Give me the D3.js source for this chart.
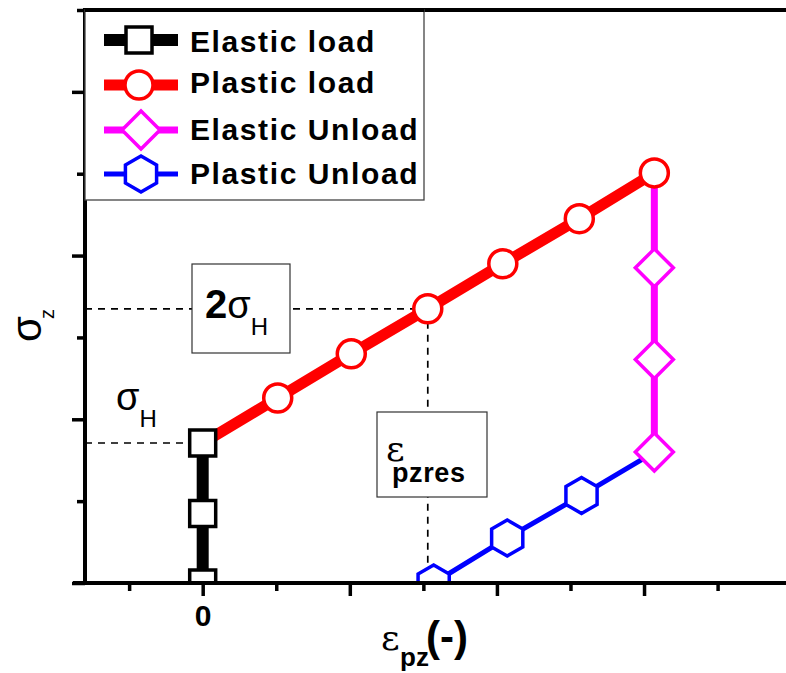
<!DOCTYPE html>
<html>
<head>
<meta charset="utf-8">
<script src="https://cdn.jsdelivr.net/npm/d3@7"></script>
<style>
  body { margin: 0; background: #fff; }
  text { font-family: "Liberation Sans", Arial, sans-serif; fill: #000; }
</style>
</head>
<body>
<div id="root"></div>
<script>
// series values (x in strain units, y in stress units)
var elasticLoadX = [0, 0, 0];
var elasticLoadY = [0, 0.85, 1.71];
var plasticLoadX = [0, 1.02, 2.02, 3.06, 4.08, 5.12, 6.14];
var plasticLoadY = [1.71, 2.26, 2.80, 3.35, 3.90, 4.45, 5.01];
var elasticUnloadX = [6.14, 6.14, 6.14, 6.14];
var elasticUnloadY = [5.01, 3.85, 2.73, 1.60];
var plasticUnloadX = [6.14, 5.15, 4.14, 3.14];
var plasticUnloadY = [1.60, 1.07, 0.55, 0];

var seriesNames = ["Elastic load", "Plastic load", "Elastic Unload", "Plastic Unload"];
var xTicks = [-1, 0, 1, 2, 3, 4, 5, 6, 7];
var xTickLabels = ["", "0", "", "", "", "", "", "", ""];
var yTicks = [0, 1, 2, 3, 4, 5, 6, 7];

var w = 786, h = 673;
var margin = { top: 10, right: 0, bottom: 90, left: 85 };

var xScale = d3.scaleLinear().domain([-1.6, 7.93]).range([margin.left, w]);
var yScale = d3.scaleLinear().domain([0, 7]).range([h - margin.bottom, margin.top]);

function zip(xs, ys) {
  return xs.map(function(v, i) { return [v, ys[i]]; });
}

var series = [
  { name: seriesNames[0], pts: zip(elasticLoadX, elasticLoadY), color: "#000000", width: 12, shape: "square", skipFirst: false },
  { name: seriesNames[1], pts: zip(plasticLoadX, plasticLoadY), color: "#ff0000", width: 11, shape: "circle", skipFirst: true },
  { name: seriesNames[2], pts: zip(elasticUnloadX, elasticUnloadY), color: "#ff00ff", width: 7, shape: "diamond", skipFirst: true },
  { name: seriesNames[3], pts: zip(plasticUnloadX, plasticUnloadY), color: "#0000ff", width: 5, shape: "hexagon", skipFirst: true }
];

// marker outline around (0,0)
function shapePath(shape) {
  if (shape === "square") return "M-13,-13H13V13H-13Z";
  if (shape === "circle") return "M14,0A14,14 0 1,1 -14,0A14,14 0 1,1 14,0Z";
  if (shape === "diamond") return "M0,-19L19,0L0,19L-19,0Z";
  var p = d3.path();
  for (var k = 0; k < 6; k++) {
    var a = -Math.PI / 2 + k * Math.PI / 3;
    if (k === 0) p.moveTo(18 * Math.cos(a), 18 * Math.sin(a));
    else p.lineTo(18 * Math.cos(a), 18 * Math.sin(a));
  }
  p.closePath();
  return p.toString();
}

var svg = d3.select("#root").append("svg").attr("width", w).attr("height", h);
svg.append("rect").attr("width", w).attr("height", h).attr("fill", "white");

svg.append("clipPath").attr("id", "plotclip").append("rect")
  .attr("x", margin.left).attr("y", margin.top)
  .attr("width", w - margin.left).attr("height", yScale(0) - margin.top);

var plot = svg.append("g").attr("clip-path", "url(#plotclip)");

// dashed guide lines through the plastic point at 2 sigma_H and sigma_H
var gx = xScale(plasticLoadX[3]), gy = yScale(plasticLoadY[3]);
var hy = yScale(elasticLoadY[2]);
plot.append("line").attr("x1", margin.left).attr("x2", gx).attr("y1", gy).attr("y2", gy)
  .attr("stroke", "#000").attr("stroke-width", 1.7).attr("stroke-dasharray", "7,6");
plot.append("line").attr("x1", gx).attr("x2", gx).attr("y1", gy).attr("y2", yScale(0))
  .attr("stroke", "#000").attr("stroke-width", 1.7).attr("stroke-dasharray", "7,6");
plot.append("line").attr("x1", margin.left).attr("x2", xScale(0) - 14).attr("y1", hy).attr("y2", hy)
  .attr("stroke", "#000").attr("stroke-width", 1.7).attr("stroke-dasharray", "7,6");

var line = d3.line().x(function(d) { return xScale(d[0]); }).y(function(d) { return yScale(d[1]); });

series.forEach(function(s) {
  plot.append("path").attr("d", line(s.pts)).attr("fill", "none")
    .attr("stroke", s.color).attr("stroke-width", s.width);
});

series.forEach(function(s) {
  var pts = s.skipFirst ? s.pts.slice(1) : s.pts;
  plot.selectAll(null).data(pts).enter().append("path")
    .attr("d", shapePath(s.shape))
    .attr("transform", function(d) { return "translate(" + xScale(d[0]) + "," + yScale(d[1]) + ")"; })
    .attr("fill", "white").attr("stroke", s.color).attr("stroke-width", 3.5);
});

// annotation boxes
svg.append("rect").attr("x", 192).attr("y", 264).attr("width", 98).attr("height", 89)
  .attr("fill", "white").attr("stroke", "#333").attr("stroke-width", 1.2);
var t2 = svg.append("text").attr("x", 205).attr("y", 318);
t2.append("tspan").style("font-size", "40px").style("font-weight", "bold").text("2");
t2.append("tspan").style("font-size", "38px").text("σ");
t2.append("tspan").attr("dy", 17).style("font-size", "24px").text("H");

svg.append("rect").attr("x", 377).attr("y", 412).attr("width", 110).attr("height", 85)
  .attr("fill", "white").attr("stroke", "#333").attr("stroke-width", 1.2);
var te = svg.append("text").attr("x", 386).attr("y", 461);
te.append("tspan").style("font-family", "'DejaVu Serif', serif").style("font-size", "36px").text("ε");
te.append("tspan").attr("x", 392).attr("y", 482).style("font-size", "27px").style("font-weight", "bold")
  .style("letter-spacing", "0.6px").text("pzres");

var th = svg.append("text").attr("x", 116).attr("y", 410);
th.append("tspan").style("font-size", "38px").text("σ");
th.append("tspan").attr("dy", 17).style("font-size", "24px").text("H");

// axes
var xAxis = d3.axisBottom(xScale).tickValues(xTicks).tickSizeOuter(0)
  .tickFormat(function(d, i) { return xTickLabels[i]; });
var gxAxis = svg.append("g").attr("transform", "translate(0," + yScale(0) + ")").call(xAxis);
gxAxis.select(".domain").remove();
gxAxis.selectAll(".tick line").attr("stroke", "#000").attr("stroke-width", 3.5)
  .attr("y2", function(d) { return d % 2 === 0 ? 13 : 8; });
gxAxis.selectAll(".tick text").attr("y", 22).attr("dy", "0.71em")
  .style("font-size", "30px").style("font-weight", "bold").attr("font-family", null);

var yAxis = d3.axisLeft(yScale).tickValues(yTicks).tickSizeOuter(0).tickFormat("");
var gyAxis = svg.append("g").attr("transform", "translate(" + margin.left + ",0)").call(yAxis);
gyAxis.select(".domain").remove();
gyAxis.selectAll(".tick line").attr("stroke", "#000").attr("stroke-width", 3.5)
  .attr("x2", function(d) { return d % 2 === 0 ? -13 : -8; });

// frame lines
svg.append("line").attr("x1", margin.left - 12).attr("x2", w).attr("y1", yScale(0)).attr("y2", yScale(0))
  .attr("stroke", "#000").attr("stroke-width", 4);
svg.append("line").attr("x1", margin.left).attr("x2", margin.left).attr("y1", yScale(7) - 2).attr("y2", yScale(0) + 2)
  .attr("stroke", "#000").attr("stroke-width", 4);
svg.append("line").attr("x1", margin.left).attr("x2", w).attr("y1", yScale(7)).attr("y2", yScale(7))
  .attr("stroke", "#000").attr("stroke-width", 4);

// legend
var lg = svg.append("g");
lg.append("rect").attr("x", margin.left).attr("y", yScale(7)).attr("width", 424 - margin.left).attr("height", 200 - yScale(7))
  .attr("fill", "white").attr("stroke", "#444").attr("stroke-width", 1.3);
svg.append("line").attr("x1", margin.left).attr("x2", 424).attr("y1", yScale(7)).attr("y2", yScale(7))
  .attr("stroke", "#000").attr("stroke-width", 4);
var rowY = [40, 85, 130, 174];
var textY = [52, 93, 140, 184];
series.forEach(function(s, i) {
  lg.append("line").attr("x1", 104).attr("x2", 178).attr("y1", rowY[i]).attr("y2", rowY[i])
    .attr("stroke", s.color).attr("stroke-width", s.width);
  lg.append("path").attr("d", shapePath(s.shape))
    .attr("transform", "translate(" + (i < 2 ? 139 : 141) + "," + rowY[i] + ")")
    .attr("fill", "white").attr("stroke", s.color).attr("stroke-width", 3.5);
  lg.append("text").attr("x", 190).attr("y", textY[i])
    .style("font-size", "30px").style("font-weight", "bold").style("letter-spacing", "1.6px")
    .text(s.name);
});

// axis titles
var tx = svg.append("text").attr("x", 381).attr("y", 650);
tx.append("tspan").style("font-family", "'DejaVu Serif', serif").style("font-size", "36px").text("ε");
tx.append("tspan").attr("x", 400).attr("y", 666).style("font-size", "26px").style("font-weight", "bold").text("pz");
tx.append("tspan").attr("x", 426).attr("y", 651).style("font-size", "42px").style("font-weight", "bold").text("(-)");

var ty = svg.append("text").attr("transform", "translate(41,342) rotate(-90)");
ty.append("tspan").style("font-size", "42px").text("σ");
ty.append("tspan").attr("dy", 13).attr("dx", -3).style("font-size", "20px").text("z");
</script>
</body>
</html>
